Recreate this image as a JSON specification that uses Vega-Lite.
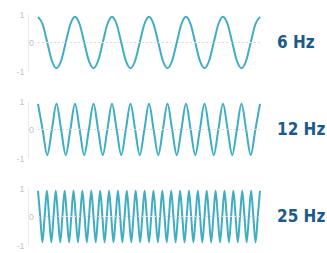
{
  "$schema": "https://vega.github.io/schema/vega-lite/v6.json",
  "padding": {"top": 10, "left": 15, "right": 0, "bottom": 0},
  "background": "#ffffff",
  "data": {"values": [
    {"f":"6 Hz","t":0,"y":0.9},{"f":"6 Hz","t":0.0208,"y":0.64},{"f":"6 Hz","t":0.0417,"y":0},{"f":"6 Hz","t":0.0625,"y":-0.64},
    {"f":"6 Hz","t":0.0833,"y":-0.9},{"f":"6 Hz","t":0.1042,"y":-0.64},{"f":"6 Hz","t":0.125,"y":0},{"f":"6 Hz","t":0.1458,"y":0.64},
    {"f":"6 Hz","t":0.1667,"y":0.9},{"f":"6 Hz","t":0.1875,"y":0.64},{"f":"6 Hz","t":0.2083,"y":0},{"f":"6 Hz","t":0.2292,"y":-0.64},
    {"f":"6 Hz","t":0.25,"y":-0.9},{"f":"6 Hz","t":0.2708,"y":-0.64},{"f":"6 Hz","t":0.2917,"y":0},{"f":"6 Hz","t":0.3125,"y":0.64},
    {"f":"6 Hz","t":0.3333,"y":0.9},{"f":"6 Hz","t":0.3542,"y":0.64},{"f":"6 Hz","t":0.375,"y":0},{"f":"6 Hz","t":0.3958,"y":-0.64},
    {"f":"6 Hz","t":0.4167,"y":-0.9},{"f":"6 Hz","t":0.4375,"y":-0.64},{"f":"6 Hz","t":0.4583,"y":0},{"f":"6 Hz","t":0.4792,"y":0.64},
    {"f":"6 Hz","t":0.5,"y":0.9},{"f":"6 Hz","t":0.5208,"y":0.64},{"f":"6 Hz","t":0.5417,"y":0},{"f":"6 Hz","t":0.5625,"y":-0.64},
    {"f":"6 Hz","t":0.5833,"y":-0.9},{"f":"6 Hz","t":0.6042,"y":-0.64},{"f":"6 Hz","t":0.625,"y":0},{"f":"6 Hz","t":0.6458,"y":0.64},
    {"f":"6 Hz","t":0.6667,"y":0.9},{"f":"6 Hz","t":0.6875,"y":0.64},{"f":"6 Hz","t":0.7083,"y":0},{"f":"6 Hz","t":0.7292,"y":-0.64},
    {"f":"6 Hz","t":0.75,"y":-0.9},{"f":"6 Hz","t":0.7708,"y":-0.64},{"f":"6 Hz","t":0.7917,"y":0},{"f":"6 Hz","t":0.8125,"y":0.64},
    {"f":"6 Hz","t":0.8333,"y":0.9},{"f":"6 Hz","t":0.8542,"y":0.64},{"f":"6 Hz","t":0.875,"y":0},{"f":"6 Hz","t":0.8958,"y":-0.64},
    {"f":"6 Hz","t":0.9167,"y":-0.9},{"f":"6 Hz","t":0.9375,"y":-0.64},{"f":"6 Hz","t":0.9583,"y":0},{"f":"6 Hz","t":0.9792,"y":0.64},
    {"f":"6 Hz","t":1,"y":0.9},

    {"f":"12 Hz","t":0,"y":0.9},{"f":"12 Hz","t":0.0208,"y":0},{"f":"12 Hz","t":0.0417,"y":-0.9},{"f":"12 Hz","t":0.0625,"y":0},
    {"f":"12 Hz","t":0.0833,"y":0.9},{"f":"12 Hz","t":0.1042,"y":0},{"f":"12 Hz","t":0.125,"y":-0.9},{"f":"12 Hz","t":0.1458,"y":0},
    {"f":"12 Hz","t":0.1667,"y":0.9},{"f":"12 Hz","t":0.1875,"y":0},{"f":"12 Hz","t":0.2083,"y":-0.9},{"f":"12 Hz","t":0.2292,"y":0},
    {"f":"12 Hz","t":0.25,"y":0.9},{"f":"12 Hz","t":0.2708,"y":0},{"f":"12 Hz","t":0.2917,"y":-0.9},{"f":"12 Hz","t":0.3125,"y":0},
    {"f":"12 Hz","t":0.3333,"y":0.9},{"f":"12 Hz","t":0.3542,"y":0},{"f":"12 Hz","t":0.375,"y":-0.9},{"f":"12 Hz","t":0.3958,"y":0},
    {"f":"12 Hz","t":0.4167,"y":0.9},{"f":"12 Hz","t":0.4375,"y":0},{"f":"12 Hz","t":0.4583,"y":-0.9},{"f":"12 Hz","t":0.4792,"y":0},
    {"f":"12 Hz","t":0.5,"y":0.9},{"f":"12 Hz","t":0.5208,"y":0},{"f":"12 Hz","t":0.5417,"y":-0.9},{"f":"12 Hz","t":0.5625,"y":0},
    {"f":"12 Hz","t":0.5833,"y":0.9},{"f":"12 Hz","t":0.6042,"y":0},{"f":"12 Hz","t":0.625,"y":-0.9},{"f":"12 Hz","t":0.6458,"y":0},
    {"f":"12 Hz","t":0.6667,"y":0.9},{"f":"12 Hz","t":0.6875,"y":0},{"f":"12 Hz","t":0.7083,"y":-0.9},{"f":"12 Hz","t":0.7292,"y":0},
    {"f":"12 Hz","t":0.75,"y":0.9},{"f":"12 Hz","t":0.7708,"y":0},{"f":"12 Hz","t":0.7917,"y":-0.9},{"f":"12 Hz","t":0.8125,"y":0},
    {"f":"12 Hz","t":0.8333,"y":0.9},{"f":"12 Hz","t":0.8542,"y":0},{"f":"12 Hz","t":0.875,"y":-0.9},{"f":"12 Hz","t":0.8958,"y":0},
    {"f":"12 Hz","t":0.9167,"y":0.9},{"f":"12 Hz","t":0.9375,"y":0},{"f":"12 Hz","t":0.9583,"y":-0.9},{"f":"12 Hz","t":0.9792,"y":0},
    {"f":"12 Hz","t":1,"y":0.9},

    {"f":"25 Hz","t":0,"y":0.9},{"f":"25 Hz","t":0.01,"y":0},{"f":"25 Hz","t":0.02,"y":-0.9},{"f":"25 Hz","t":0.03,"y":0},
    {"f":"25 Hz","t":0.04,"y":0.9},{"f":"25 Hz","t":0.05,"y":0},{"f":"25 Hz","t":0.06,"y":-0.9},{"f":"25 Hz","t":0.07,"y":0},
    {"f":"25 Hz","t":0.08,"y":0.9},{"f":"25 Hz","t":0.09,"y":0},{"f":"25 Hz","t":0.1,"y":-0.9},{"f":"25 Hz","t":0.11,"y":0},
    {"f":"25 Hz","t":0.12,"y":0.9},{"f":"25 Hz","t":0.13,"y":0},{"f":"25 Hz","t":0.14,"y":-0.9},{"f":"25 Hz","t":0.15,"y":0},
    {"f":"25 Hz","t":0.16,"y":0.9},{"f":"25 Hz","t":0.17,"y":0},{"f":"25 Hz","t":0.18,"y":-0.9},{"f":"25 Hz","t":0.19,"y":0},
    {"f":"25 Hz","t":0.2,"y":0.9},{"f":"25 Hz","t":0.21,"y":0},{"f":"25 Hz","t":0.22,"y":-0.9},{"f":"25 Hz","t":0.23,"y":0},
    {"f":"25 Hz","t":0.24,"y":0.9},{"f":"25 Hz","t":0.25,"y":0},{"f":"25 Hz","t":0.26,"y":-0.9},{"f":"25 Hz","t":0.27,"y":0},
    {"f":"25 Hz","t":0.28,"y":0.9},{"f":"25 Hz","t":0.29,"y":0},{"f":"25 Hz","t":0.3,"y":-0.9},{"f":"25 Hz","t":0.31,"y":0},
    {"f":"25 Hz","t":0.32,"y":0.9},{"f":"25 Hz","t":0.33,"y":0},{"f":"25 Hz","t":0.34,"y":-0.9},{"f":"25 Hz","t":0.35,"y":0},
    {"f":"25 Hz","t":0.36,"y":0.9},{"f":"25 Hz","t":0.37,"y":0},{"f":"25 Hz","t":0.38,"y":-0.9},{"f":"25 Hz","t":0.39,"y":0},
    {"f":"25 Hz","t":0.4,"y":0.9},{"f":"25 Hz","t":0.41,"y":0},{"f":"25 Hz","t":0.42,"y":-0.9},{"f":"25 Hz","t":0.43,"y":0},
    {"f":"25 Hz","t":0.44,"y":0.9},{"f":"25 Hz","t":0.45,"y":0},{"f":"25 Hz","t":0.46,"y":-0.9},{"f":"25 Hz","t":0.47,"y":0},
    {"f":"25 Hz","t":0.48,"y":0.9},{"f":"25 Hz","t":0.49,"y":0},{"f":"25 Hz","t":0.5,"y":-0.9},{"f":"25 Hz","t":0.51,"y":0},
    {"f":"25 Hz","t":0.52,"y":0.9},{"f":"25 Hz","t":0.53,"y":0},{"f":"25 Hz","t":0.54,"y":-0.9},{"f":"25 Hz","t":0.55,"y":0},
    {"f":"25 Hz","t":0.56,"y":0.9},{"f":"25 Hz","t":0.57,"y":0},{"f":"25 Hz","t":0.58,"y":-0.9},{"f":"25 Hz","t":0.59,"y":0},
    {"f":"25 Hz","t":0.6,"y":0.9},{"f":"25 Hz","t":0.61,"y":0},{"f":"25 Hz","t":0.62,"y":-0.9},{"f":"25 Hz","t":0.63,"y":0},
    {"f":"25 Hz","t":0.64,"y":0.9},{"f":"25 Hz","t":0.65,"y":0},{"f":"25 Hz","t":0.66,"y":-0.9},{"f":"25 Hz","t":0.67,"y":0},
    {"f":"25 Hz","t":0.68,"y":0.9},{"f":"25 Hz","t":0.69,"y":0},{"f":"25 Hz","t":0.7,"y":-0.9},{"f":"25 Hz","t":0.71,"y":0},
    {"f":"25 Hz","t":0.72,"y":0.9},{"f":"25 Hz","t":0.73,"y":0},{"f":"25 Hz","t":0.74,"y":-0.9},{"f":"25 Hz","t":0.75,"y":0},
    {"f":"25 Hz","t":0.76,"y":0.9},{"f":"25 Hz","t":0.77,"y":0},{"f":"25 Hz","t":0.78,"y":-0.9},{"f":"25 Hz","t":0.79,"y":0},
    {"f":"25 Hz","t":0.8,"y":0.9},{"f":"25 Hz","t":0.81,"y":0},{"f":"25 Hz","t":0.82,"y":-0.9},{"f":"25 Hz","t":0.83,"y":0},
    {"f":"25 Hz","t":0.84,"y":0.9},{"f":"25 Hz","t":0.85,"y":0},{"f":"25 Hz","t":0.86,"y":-0.9},{"f":"25 Hz","t":0.87,"y":0},
    {"f":"25 Hz","t":0.88,"y":0.9},{"f":"25 Hz","t":0.89,"y":0},{"f":"25 Hz","t":0.9,"y":-0.9},{"f":"25 Hz","t":0.91,"y":0},
    {"f":"25 Hz","t":0.92,"y":0.9},{"f":"25 Hz","t":0.93,"y":0},{"f":"25 Hz","t":0.94,"y":-0.9},{"f":"25 Hz","t":0.95,"y":0},
    {"f":"25 Hz","t":0.96,"y":0.9},{"f":"25 Hz","t":0.97,"y":0},{"f":"25 Hz","t":0.98,"y":-0.9},{"f":"25 Hz","t":0.99,"y":0},
    {"f":"25 Hz","t":1,"y":0.9}
  ]},
  "facet": {
    "row": {
      "field": "f",
      "type": "nominal",
      "sort": ["6 Hz", "12 Hz", "25 Hz"],
      "header": {"title": null, "labels": false}
    }
  },
  "spacing": {"row": 26},
  "spec": {
    "width": 222,
    "height": 57,
    "encoding": {
      "x": {"field": "t", "type": "quantitative", "scale": {"domain": [0, 1], "nice": false}, "axis": null}
    },
    "layer": [
      {
        "mark": {"type": "line", "interpolate": "monotone", "color": "#3fadc2", "strokeWidth": 2},
        "encoding": {
          "y": {
            "field": "y",
            "type": "quantitative",
            "scale": {"domain": [-1, 1], "nice": false},
            "axis": {
              "title": null,
              "values": [-1, 0, 1],
              "labelExpr": "datum.value > 0.5 ? '1' : (datum.value < -0.5 ? '-1' : '')",
              "labelOverlap": false,
              "labelBound": false,
              "labelColor": "#c4c4c4",
              "labelFontSize": 9,
              "labelPadding": 4,
              "ticks": false,
              "domainColor": "#ececec",
              "grid": false
            }
          }
        }
      },
      {
        "transform": [{"filter": "datum.t === 1"}],
        "mark": {"type": "rule", "color": "#f0d4da", "strokeDash": [2, 2], "strokeWidth": 1},
        "encoding": {
          "x": {"datum": 0, "type": "quantitative"},
          "x2": {"datum": 1},
          "y": {"datum": 0, "type": "quantitative"}
        }
      },
      {
        "transform": [{"filter": "datum.t === 1"}],
        "mark": {"type": "text", "text": "0", "align": "right", "baseline": "middle", "dx": -4, "fontSize": 9, "color": "#c4c4c4"},
        "encoding": {
          "x": {"datum": 0, "type": "quantitative"},
          "y": {"datum": 0, "type": "quantitative"}
        }
      },
      {
        "transform": [{"filter": "datum.t === 1"}],
        "mark": {
          "type": "text",
          "align": "left",
          "baseline": "middle",
          "dx": 17,
          "font": "'Liberation Sans Narrow', 'DejaVu Sans Condensed', Roboto, sans-serif",
          "fontSize": 17,
          "fontWeight": "bold",
          "color": "#1d5a8c"
        },
        "encoding": {
          "y": {"datum": 0, "type": "quantitative"},
          "text": {"field": "f", "type": "nominal"}
        }
      }
    ]
  },
  "config": {"view": {"stroke": null}, "axisY": {"labelOverlap": false}, "axis": {"labelOverlap": false}}
}
